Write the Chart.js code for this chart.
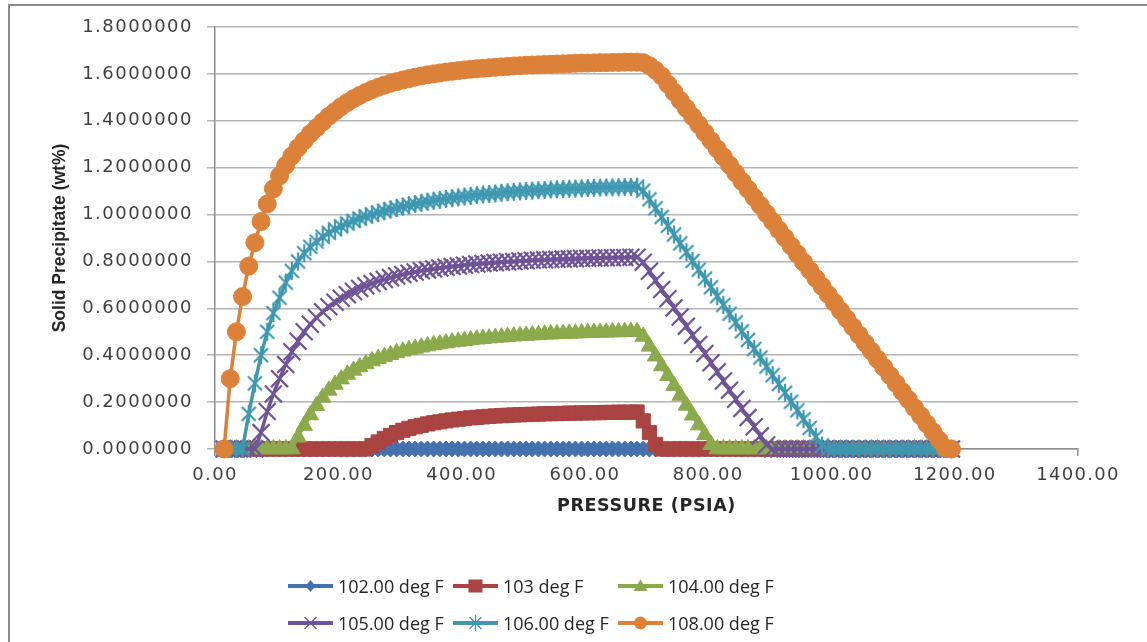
<!DOCTYPE html>
<html>
<head>
<meta charset="utf-8">
<script src="https://cdn.jsdelivr.net/npm/chart.js@4.4.1/dist/chart.umd.min.js"></script>
<style>
html,body{margin:0;padding:0;background:#fff;}
#wrap{position:relative;width:1147px;height:642px;overflow:hidden;background:#fff;}
#c{position:absolute;left:0;top:0;}
#frame{position:absolute;left:8px;top:4px;width:1400px;height:1000px;border:2px solid #8a8a8a;box-sizing:border-box;pointer-events:none;}
#legend{position:absolute;left:0;top:0;width:1147px;height:642px;pointer-events:none;font-family:'Open Sans',sans-serif;font-size:18px;color:#262626;}
.li{position:absolute;display:flex;align-items:center;height:30px;white-space:nowrap;}
.li span{line-height:1;margin-left:5px;}
</style>
</head>
<body>
<div id="wrap">
  <canvas id="c" width="1147" height="642"></canvas>
  <div id="legend"></div>
  <div id="frame"></div>
</div>
<script>
// ---------- DATA ----------
const pressure = [
  14.7, 24.7, 34.7, 44.7, 54.7, 64.7, 74.7, 84.7, 94.7, 104.7,
  114.7, 124.7, 134.7, 144.7, 154.7, 164.7, 174.7, 184.7, 194.7, 204.7,
  214.7, 224.7, 234.7, 244.7, 254.7, 264.7, 274.7, 284.7, 294.7, 304.7,
  314.7, 324.7, 334.7, 344.7, 354.7, 364.7, 374.7, 384.7, 394.7, 404.7,
  414.7, 424.7, 434.7, 444.7, 454.7, 464.7, 474.7, 484.7, 494.7, 504.7,
  514.7, 524.7, 534.7, 544.7, 554.7, 564.7, 574.7, 584.7, 594.7, 604.7,
  614.7, 624.7, 634.7, 644.7, 654.7, 664.7, 674.7, 684.7, 694.7, 704.7,
  714.7, 724.7, 734.7, 744.7, 754.7, 764.7, 774.7, 784.7, 794.7, 804.7,
  814.7, 824.7, 834.7, 844.7, 854.7, 864.7, 874.7, 884.7, 894.7, 904.7,
  914.7, 924.7, 934.7, 944.7, 954.7, 964.7, 974.7, 984.7, 994.7, 1004.7,
  1014.7, 1024.7, 1034.7, 1044.7, 1054.7, 1064.7, 1074.7, 1084.7, 1094.7, 1104.7,
  1114.7, 1124.7, 1134.7, 1144.7, 1154.7, 1164.7, 1174.7, 1184.7, 1194.7
];

const s102 = [
  0,0,0,0,0,0,0,0,0,0,
  0,0,0,0,0,0,0,0,0,0,
  0,0,0,0,0,0,0,0,0,0,
  0,0,0,0,0,0,0,0,0,0,
  0,0,0,0,0,0,0,0,0,0,
  0,0,0,0,0,0,0,0,0,0,
  0,0,0,0,0,0,0,0,0,0,
  0,0,0,0,0,0,0,0,0,0,
  0,0,0,0,0,0,0,0,0,0,
  0,0,0,0,0,0,0,0,0,0,
  0,0,0,0,0,0,0,0,0,0,
  0,0,0,0,0,0,0,0,0
];

const s103 = [
  0,0,0,0,0,0,0,0,0,0,
  0,0,0,0,0,0,0,0,0,0,
  0,0,0,0,0.015,0.03,0.045,0.058,0.07,0.08,
  0.088,0.095,0.101,0.107,0.112,0.116,0.12,0.124,0.127,0.13,
  0.133,0.135,0.137,0.139,0.141,0.142,0.144,0.145,0.146,0.147,
  0.148,0.149,0.15,0.151,0.151,0.152,0.153,0.153,0.154,0.154,
  0.155,0.155,0.156,0.156,0.157,0.157,0.157,0.158,0.12,0.07,
  0.02,0,0,0,0,0,0,0,0,0,
  0,0,0,0,0,0,0,0,0,0,
  0,0,0,0,0,0,0,0,0,0,
  0,0,0,0,0,0,0,0,0,0,
  0,0,0,0,0,0,0,0,0
];

const s104 = [
  0,0,0,0,0,0,0,0,0,0,
  0,0,0.05,0.10,0.145,0.185,0.22,0.25,0.275,0.298,
  0.318,0.335,0.35,0.363,0.375,0.385,0.394,0.402,0.41,0.417,
  0.423,0.429,0.434,0.439,0.444,0.448,0.452,0.456,0.459,0.462,
  0.465,0.468,0.47,0.473,0.475,0.477,0.479,0.481,0.483,0.484,
  0.486,0.487,0.489,0.49,0.491,0.492,0.493,0.494,0.495,0.496,
  0.497,0.497,0.498,0.499,0.499,0.5,0.5,0.5,0.48,0.438,
  0.396,0.354,0.312,0.27,0.228,0.186,0.144,0.102,0.06,0.018,
  0,0,0,0,0,0,0,0,0,0,
  0,0,0,0,0,0,0,0,0,0,
  0,0,0,0,0,0,0,0,0,0,
  0,0,0,0,0,0,0,0,0
];

const s105 = [
  0,0,0,0,0,0,0.07,0.16,0.235,0.30,
  0.36,0.415,0.46,0.5,0.532,0.56,0.585,0.607,0.626,0.643,
  0.658,0.672,0.685,0.696,0.706,0.715,0.723,0.731,0.738,0.744,
  0.75,0.755,0.76,0.764,0.768,0.772,0.775,0.778,0.781,0.784,
  0.787,0.789,0.791,0.793,0.795,0.797,0.799,0.8,0.802,0.803,
  0.805,0.806,0.807,0.808,0.809,0.81,0.811,0.812,0.813,0.814,
  0.814,0.815,0.816,0.816,0.817,0.817,0.818,0.818,0.797,0.758,
  0.719,0.68,0.641,0.602,0.563,0.524,0.485,0.446,0.407,0.368,
  0.329,0.29,0.251,0.212,0.173,0.134,0.095,0.056,0.017,0,
  0,0,0,0,0,0,0,0,0,0,
  0,0,0,0,0,0,0,0,0,0,
  0,0,0,0,0,0,0,0,0
];

const s106 = [
  0,0,0,0,0.15,0.28,0.40,0.50,0.58,0.645,
  0.71,0.76,0.80,0.835,0.862,0.885,0.905,0.922,0.937,0.95,
  0.962,0.973,0.983,0.992,1.0,1.008,1.015,1.022,1.028,1.034,
  1.04,1.045,1.05,1.055,1.059,1.063,1.067,1.07,1.074,1.077,
  1.08,1.083,1.086,1.088,1.09,1.093,1.095,1.097,1.099,1.101,
  1.102,1.104,1.105,1.107,1.108,1.109,1.11,1.111,1.112,1.113,
  1.114,1.115,1.116,1.116,1.117,1.118,1.118,1.119,1.102,1.065,
  1.027,0.99,0.952,0.915,0.877,0.84,0.802,0.765,0.727,0.69,
  0.652,0.615,0.577,0.54,0.502,0.465,0.427,0.39,0.352,0.315,
  0.277,0.24,0.202,0.165,0.127,0.09,0.052,0.015,0,0,
  0,0,0,0,0,0,0,0,0,0,
  0,0,0,0,0,0,0,0,0
];

const s108 = [
  0,0.30,0.50,0.65,0.78,0.88,0.97,1.045,1.11,1.165,
  1.21,1.25,1.285,1.315,1.345,1.37,1.395,1.42,1.44,1.46,
  1.478,1.494,1.508,1.521,1.533,1.543,1.552,1.56,1.567,1.574,
  1.58,1.586,1.591,1.596,1.6,1.604,1.608,1.611,1.614,1.617,
  1.62,1.622,1.624,1.626,1.628,1.63,1.632,1.634,1.635,1.637,
  1.638,1.639,1.64,1.641,1.642,1.643,1.644,1.645,1.646,1.646,
  1.647,1.648,1.648,1.649,1.649,1.65,1.65,1.65,1.648,1.635,
  1.615,1.591,1.556,1.522,1.487,1.453,1.418,1.384,1.349,1.315,
  1.28,1.246,1.211,1.177,1.142,1.108,1.073,1.039,1.004,0.97,
  0.935,0.901,0.866,0.832,0.797,0.763,0.728,0.694,0.659,0.625,
  0.59,0.556,0.521,0.487,0.452,0.418,0.383,0.349,0.314,0.28,
  0.245,0.211,0.176,0.142,0.107,0.073,0.038,0.004,0
];

const seriesLabels = ['102.00 deg F', '103 deg F', '104.00 deg F', '105.00 deg F', '106.00 deg F', '108.00 deg F'];
const seriesValues = [s102, s103, s104, s105, s106, s108];
const xTickValues = [0, 200, 400, 600, 800, 1000, 1200, 1400];
const yTickValues = [0, 0.2, 0.4, 0.6, 0.8, 1.0, 1.2, 1.4, 1.6, 1.8];

// ---------- STYLE ----------
const colors = ['#4571AD', '#A94442', '#8BAA4B', '#6F5497', '#3F98B0', '#DC8139'];

function starCanvas(color, size, lw) {
  const c = document.createElement('canvas');
  c.width = size; c.height = size;
  const g = c.getContext('2d');
  g.strokeStyle = color; g.lineWidth = lw;
  const m = size / 2, a = size / 2 - 1, d = a * 0.78;
  g.beginPath();
  g.moveTo(m - d, m - d); g.lineTo(m + d, m + d);
  g.moveTo(m + d, m - d); g.lineTo(m - d, m + d);
  g.moveTo(m, m - a); g.lineTo(m, m + a);
  g.stroke();
  return c;
}

const markerStyles = [
  {pointStyle: 'rectRot', radius: 8, bw: 1},
  {pointStyle: 'rect', radius: 10, bw: 1},
  {pointStyle: 'triangle', radius: 9.5, bw: 1},
  {pointStyle: 'crossRot', radius: 12, bw: 2.2},
  {pointStyle: starCanvas(colors[4], 20, 2.2), radius: 10, bw: 2},
  {pointStyle: 'circle', radius: 9, bw: 1}
];

function spacedText(scale, px, titlePx) {
  if (scale._spaced) return;
  scale._spaced = true;
  const origLabels = scale.drawLabels;
  scale.drawLabels = function (area) {
    const ctx = this.ctx; ctx.save(); ctx.letterSpacing = px; origLabels.call(this, area); ctx.restore();
  };
  if (titlePx) {
    const origTitle = scale.drawTitle;
    scale.drawTitle = function () {
      const ctx = this.ctx; ctx.save(); ctx.letterSpacing = titlePx; origTitle.call(this); ctx.restore();
    };
  }
}

const datasets = seriesValues.map((vals, i) => ({
  label: seriesLabels[i],
  data: pressure.map((p, k) => ({x: p, y: vals[k]})),
  borderColor: colors[i],
  backgroundColor: colors[i],
  borderWidth: 3.5,
  pointStyle: markerStyles[i].pointStyle,
  pointRadius: markerStyles[i].radius,
  pointBorderWidth: markerStyles[i].bw,
  pointBackgroundColor: colors[i],
  pointBorderColor: colors[i],
  tension: 0,
  clip: false,
  order: 5 - i
}));

new Chart(document.getElementById('c'), {
  type: 'line',
  data: {datasets},
  options: {
    responsive: false,
    animation: false,
    devicePixelRatio: 1,
    layout: {padding: {left: 0, right: 69, top: 27, bottom: 0}},
    plugins: {legend: {display: false}, tooltip: {enabled: false}},
    scales: {
      x: {
        type: 'linear', min: 0, max: 1400,
        afterBuildTicks: s => { s.ticks = xTickValues.map(v => ({value: v})); },
        ticks: {
          callback: v => Number(v).toFixed(2),
          font: {family: 'DejaVu Sans', size: 18},
          color: '#404040', padding: 9, maxRotation: 0, autoSkip: false
        },
        grid: {drawOnChartArea: false, drawTicks: true, tickLength: 7, color: '#8c8c8c', lineWidth: 1.5},
        border: {display: true, color: '#8c8c8c', width: 1.5},
        title: {
          display: true, text: 'PRESSURE (PSIA)',
          font: {family: 'DejaVu Sans', size: 17.5, weight: 'bold'},
          color: '#262626', padding: {top: 0, bottom: 125.5}
        },
        afterFit: s => { s.height = 193; spacedText(s, '1.3px', '0.6px'); }
      },
      y: {
        type: 'linear', min: 0, max: 1.8,
        afterBuildTicks: s => { s.ticks = yTickValues.map(v => ({value: v})); },
        ticks: {
          callback: v => Number(v).toFixed(7),
          font: {family: 'DejaVu Sans', size: 18},
          color: '#404040', padding: 14
        },
        grid: {color: '#b4b4b4', lineWidth: 1.5, tickLength: 8, drawTicks: true},
        border: {display: true, color: '#8c8c8c', width: 1.5},
        title: {
          display: true, text: 'Solid Precipitate (wt%)',
          font: {family: 'Liberation Sans', size: 17.5, weight: 'bold'},
          color: '#262626', padding: {top: 49.5, bottom: 0}
        },
        afterFit: s => { s.width = 215; spacedText(s, '1.5px', null); }
      }
    }
  }
});

// ---------- LEGEND (HTML) ----------
function drawIcon(g, i) {
  const col = colors[i];
  g.strokeStyle = col; g.fillStyle = col;
  g.lineWidth = 4;
  g.beginPath(); g.moveTo(0, 15); g.lineTo(45, 15); g.stroke();
  const x = 22.5, y = 15;
  g.beginPath();
  if (i === 0) {
    g.moveTo(x, y - 6); g.lineTo(x + 5, y); g.lineTo(x, y + 6); g.lineTo(x - 5, y); g.closePath(); g.fill();
  } else if (i === 1) {
    g.fillRect(x - 7, y - 6.5, 14, 13);
  } else if (i === 2) {
    g.moveTo(x, y - 6.5); g.lineTo(x + 7, y + 5); g.lineTo(x - 7, y + 5); g.closePath(); g.fill();
  } else if (i === 3) {
    g.lineWidth = 1.3;
    g.moveTo(x - 6, y - 6); g.lineTo(x + 6, y + 6); g.moveTo(x + 6, y - 6); g.lineTo(x - 6, y + 6); g.stroke();
  } else if (i === 4) {
    g.lineWidth = 1.3;
    g.moveTo(x - 6, y - 6); g.lineTo(x + 6, y + 6); g.moveTo(x + 6, y - 6); g.lineTo(x - 6, y + 6);
    g.moveTo(x, y - 8); g.lineTo(x, y + 8); g.stroke();
  } else {
    g.arc(x, y, 6.5, 0, Math.PI * 2); g.fill();
  }
}

const legendCols = [288, 453, 618];
const legendRows = [586, 622.7];
const legendEl = document.getElementById('legend');
seriesLabels.forEach((lab, i) => {
  const d = document.createElement('div');
  d.className = 'li';
  d.style.left = legendCols[i % 3] + 'px';
  d.style.top = (legendRows[Math.floor(i / 3)] - 15) + 'px';
  const c = document.createElement('canvas');
  c.width = 45; c.height = 30;
  drawIcon(c.getContext('2d'), i);
  const s = document.createElement('span');
  s.textContent = lab;
  d.appendChild(c); d.appendChild(s);
  legendEl.appendChild(d);
});
</script>
</body>
</html>
